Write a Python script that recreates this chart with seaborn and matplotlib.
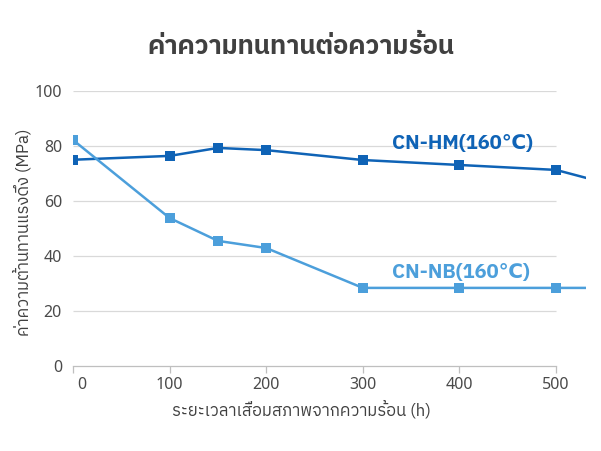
import matplotlib
matplotlib.use("Agg")
import matplotlib.pyplot as plt
import matplotlib.transforms as mtransforms
from matplotlib import font_manager as fm
from matplotlib.ft2font import FT2Font
import seaborn as sns
import pandas as pd

# ---------------- data ----------------
hours = [0, 100, 150, 200, 300, 400, 500, 600]
hm_strength = [75.0, 76.4, 79.3, 78.5, 74.9, 73.1, 71.3, 62.0]
nb_strength = [82.2, 53.8, 45.5, 42.9, 28.4, 28.4, 28.4, 28.4]
series_names = ["CN-HM(160℃)", "CN-NB(160℃)"]
x_ticks = [0, 100, 200, 300, 400, 500]
y_ticks = [0, 20, 40, 60, 80, 100]
title = "ค่าความทนทานต่อความร้อน"
x_label = "ระยะเวลาเสื่อมสภาพจากความร้อน (h)"
y_label = "ค่าความต้านทานแรงดึง (MPa)"

# ---------------- fonts ----------------
def has_thai(path):
    try:
        cm = FT2Font(path).get_charmap()
        return 0x0E04 in cm and 0x0E49 in cm
    except Exception:
        return False

thai_fonts = []
for fe in fm.fontManager.ttflist:
    if fe.name not in thai_fonts and has_thai(fe.fname):
        thai_fonts.append(fe.name)
preferred = ["IBM Plex Sans Thai", "Noto Sans Thai"]
chosen = [f for f in preferred if f in thai_fonts] or thai_fonts[:1]

sns.set_theme(style="white")
families = chosen[:1] + ["DejaVu Sans", "Noto Sans CJK SC"]
plt.rcParams["font.family"] = families

df = pd.DataFrame({
    "hours": hours * 2,
    "strength": hm_strength + nb_strength,
    "series": [series_names[0]] * len(hours) + [series_names[1]] * len(hours),
})

colors = {series_names[0]: "#0F63B6", series_names[1]: "#4C9FDB"}

W, H = 601, 451
fig = plt.figure(figsize=(W / 100, H / 100), dpi=100)
ax = fig.add_axes([73 / W, 1 - 366 / H, (586 - 73) / W, (366 - 91) / H])

sns.lineplot(data=df, x="hours", y="strength", hue="series", palette=colors,
             marker="s", markersize=6.5, markeredgewidth=0, linewidth=1.8,
             legend=False, ax=ax)

ax.set_xlim(0, 531)
ax.set_ylim(0, 100)
ax.set_xticks(x_ticks)
ax.set_yticks(y_ticks)
ax.hlines(y_ticks[1:], 0, 500, colors="#D9D9D9", linewidth=0.9, zorder=0)

for s in ["top", "right", "left"]:
    ax.spines[s].set_visible(False)
ax.spines["bottom"].set_bounds(0, 500)
ax.spines["bottom"].set_color("#BFBFBF")
ax.spines["bottom"].set_linewidth(0.9)
ax.tick_params(axis="x", direction="out", length=5, width=0.9, color="#BFBFBF",
               labelsize=11.5, labelcolor="#4A4A4A", pad=3, bottom=True)
ax.tick_params(axis="y", length=0, labelsize=11.5, labelcolor="#4A4A4A", pad=8)
for lbl in ax.get_xticklabels() + ax.get_yticklabels():
    lbl.set_family(["Noto Sans", "DejaVu Sans"])
ax.set_xlabel("")
ax.set_ylabel("")

lbl0 = ax.get_xticklabels()[0]
lbl0.set_transform(lbl0.get_transform() + mtransforms.ScaledTranslation(9 / 100, 0, fig.dpi_scale_trans))

fig.text(301 / W, 1 - 47 / H, title, ha="center", va="center", fontsize=18.5,
         fontweight="bold", color="#404040")
fig.text(301 / W, 1 - 409 / H, x_label, ha="center", va="center", fontsize=12,
         color="#404040")
fig.text(22 / W, 1 - 232 / H, y_label, ha="center", va="center", fontsize=12,
         color="#404040", rotation=90)

ax.text(330, 81, series_names[0], color="#0F63B6", fontsize=14.5, fontweight="bold",
        ha="left", va="center")
ax.text(330, 34, series_names[1], color="#4C9FDB", fontsize=14.5, fontweight="bold",
        ha="left", va="center")

fig.savefig("out.png", dpi=100)
